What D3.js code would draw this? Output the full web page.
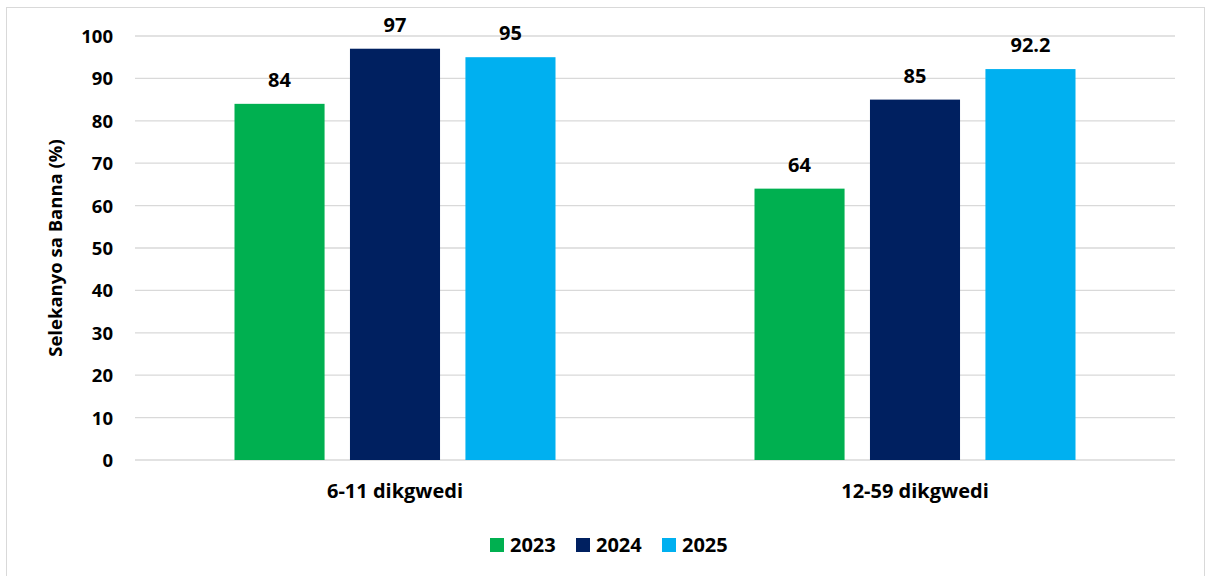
<!DOCTYPE html>
<html>
<head>
<meta charset="utf-8">
<script src="https://cdn.jsdelivr.net/npm/d3@7"></script>
<style>
  body { margin: 0; background: #fff; }
  svg text { font-family: "Open Sans", "Liberation Sans", sans-serif; font-weight: bold; fill: #000; }
</style>
</head>
<body>
<svg id="chart" width="1206" height="576"></svg>
<script>
// data
const categories = ["6-11 dikgwedi", "12-59 dikgwedi"];
const years = ["2023", "2024", "2025"];
const values2023 = [84, 64];
const values2024 = [97, 85];
const values2025 = [95, 92.2];
const yTicks = [0, 10, 20, 30, 40, 50, 60, 70, 80, 90, 100];
const colors = ["#00b050", "#002060", "#00b0f0"];

const series = [values2023, values2024, values2025];

const svg = d3.select("#chart");
const W = 1206, H = 576;

// outer frame
svg.append("rect")
  .attr("x", 6.5).attr("y", 7.5)
  .attr("width", W - 8).attr("height", H)
  .attr("fill", "#fff")
  .attr("stroke", "#d9d9d9");

const plot = { left: 135, right: 1175, top: 36, bottom: 460 };

const x0 = d3.scaleBand()
  .domain(categories)
  .range([plot.left, plot.right]);

const x1 = d3.scaleBand()
  .domain(years)
  .range([0, 321])
  .paddingInner(0.22);

const y = d3.scaleLinear()
  .domain([0, 100])
  .range([plot.bottom, plot.top]);

// gridlines
svg.append("g")
  .selectAll("line")
  .data(yTicks)
  .join("line")
  .attr("x1", plot.left).attr("x2", plot.right)
  .attr("y1", d => y(d)).attr("y2", d => y(d))
  .attr("stroke", "#d9d9d9")
  .attr("stroke-width", 1.3);

// y axis labels
const yAxis = svg.append("g")
  .attr("transform", `translate(${plot.left - 22},0)`)
  .call(d3.axisLeft(y).tickValues(yTicks).tickSize(0).tickPadding(0));
yAxis.select(".domain").remove();
yAxis.selectAll("text")
  .style("font-size", "18.5px")
  .attr("dy", "0.35em");

// y axis title
svg.append("text")
  .attr("transform", `translate(62,${(plot.top + plot.bottom) / 2}) rotate(-90)`)
  .attr("text-anchor", "middle")
  .style("font-size", "18.5px")
  .text("Selekanyo sa Banna (%)");

// bars
const groups = svg.append("g")
  .selectAll("g")
  .data(categories)
  .join("g")
  .attr("transform", d => `translate(${x0(d) + (x0.bandwidth() - 321) / 2},0)`);

groups.each(function(cat, ci) {
  const g = d3.select(this);
  const rows = years.map((yr, si) => ({ yr, v: series[si][ci], c: colors[si] }));
  g.selectAll("rect")
    .data(rows)
    .join("rect")
    .attr("x", d => x1(d.yr))
    .attr("y", d => y(d.v))
    .attr("width", x1.bandwidth())
    .attr("height", d => y(0) - y(d.v))
    .attr("fill", d => d.c);
  g.selectAll("text.val")
    .data(rows)
    .join("text")
    .attr("class", "val")
    .attr("x", d => x1(d.yr) + x1.bandwidth() / 2)
    .attr("y", d => y(d.v) - 17)
    .attr("text-anchor", "middle")
    .style("font-size", "20px")
    .text(d => d.v);
});

// category labels
svg.append("g")
  .selectAll("text")
  .data(categories)
  .join("text")
  .attr("x", d => x0(d) + x0.bandwidth() / 2)
  .attr("y", 498)
  .attr("text-anchor", "middle")
  .style("font-size", "20px")
  .text(d => d);

// legend
const legendX = [490, 576, 662];
const leg = svg.append("g")
  .selectAll("g")
  .data(years)
  .join("g")
  .attr("transform", (d, i) => `translate(${legendX[i]},538)`);
leg.append("rect")
  .attr("width", 14).attr("height", 14)
  .attr("fill", (d, i) => colors[i]);
leg.append("text")
  .attr("x", 20).attr("y", 7)
  .attr("dy", "0.36em")
  .style("font-size", "20px")
  .text(d => d);
</script>
</body>
</html>
